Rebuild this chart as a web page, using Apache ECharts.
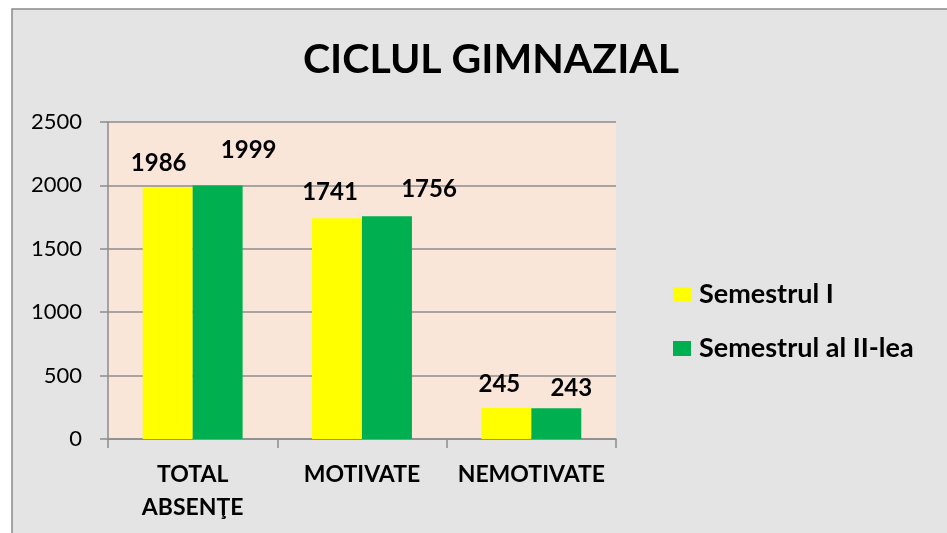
<!DOCTYPE html>
<html>
<head>
<meta charset="utf-8">
<script src="https://cdn.jsdelivr.net/npm/echarts@6/dist/echarts.min.js"></script>
<style>
  html, body { margin: 0; padding: 0; background: #fff; }
  #chart { width: 947px; height: 533px; }
</style>
</head>
<body>
<div id="chart"></div>
<script>
var myChart = echarts.init(document.getElementById('chart'));

// --- data ---
const categories = ['TOTAL\nABSENŢE', 'MOTIVATE', 'NEMOTIVATE'];
const seriesNames = ['Semestrul I', 'Semestrul al II-lea'];
const sem1 = [1986, 1741, 245];
const sem2 = [1999, 1756, 243];
const yTicks = { min: 0, max: 2500, interval: 500 };

// label nudges, as placed by hand in the original
const labelShift1 = [[-9, -12], [-7, -14], [-7, -12]];
const labelShift2 = [[31, -23], [42, -15], [15, -8]];

const fontFamily = 'Lato, "Open Sans", sans-serif';

function withLabels(values, shifts) {
    return values.map((v, i) => ({
        value: v,
        label: { offset: shifts[i] }
    }));
}

const option = {
    backgroundColor: '#ffffff',
    animation: false,
    textStyle: { fontFamily: fontFamily },
    graphic: [{
        type: 'rect',
        z: -10,
        silent: true,
        shape: { x: 12, y: 9, width: 960, height: 560 },
        style: { fill: '#e4e4e4', stroke: '#8a8a8a', lineWidth: 1.5 }
    }],
    title: {
        text: 'CICLUL GIMNAZIAL',
        left: 298,
        top: 34,
        textStyle: { fontSize: 41, fontWeight: 'bold', color: '#000', fontFamily: fontFamily }
    },
    legend: {
        orient: 'vertical',
        left: 668,
        top: 276,
        itemWidth: 18,
        itemHeight: 15,
        itemGap: 27,
        icon: 'rect',
        data: seriesNames,
        textStyle: { fontSize: 27, fontWeight: 'bold', color: '#000', padding: [0, 0, 0, 3] }
    },
    grid: {
        left: 108, right: 331, top: 122, bottom: 94,
        show: true, backgroundColor: '#fae5d9', borderWidth: 0
    },
    xAxis: {
        type: 'category',
        data: categories,
        axisLine: { lineStyle: { color: '#8c8c8c', width: 1.5 } },
        axisTick: { show: true, length: 9, lineStyle: { color: '#8c8c8c', width: 1.5 } },
        axisLabel: {
            margin: 19, fontSize: 23, fontWeight: 'bold', color: '#000',
            lineHeight: 33, interval: 0
        }
    },
    yAxis: {
        type: 'value',
        min: yTicks.min, max: yTicks.max, interval: yTicks.interval,
        axisLine: { show: true, lineStyle: { color: '#8c8c8c', width: 1.5 } },
        axisTick: { show: true, length: 8, lineStyle: { color: '#8c8c8c', width: 1.5 } },
        splitLine: { lineStyle: { color: '#8c8c8c', width: 1.5 } },
        axisLabel: { margin: 26, fontSize: 22, color: '#000', formatter: v => String(v) }
    },
    series: [
        {
            name: seriesNames[0], type: 'bar',
            data: withLabels(sem1, labelShift1),
            barGap: '0%', barCategoryGap: '41%',
            itemStyle: { color: '#ffff00' },
            label: { show: true, position: 'top', distance: 0, fontSize: 24, fontWeight: 'bold', color: '#000' }
        },
        {
            name: seriesNames[1], type: 'bar',
            data: withLabels(sem2, labelShift2),
            barGap: '0%', barCategoryGap: '41%',
            itemStyle: { color: '#00b050' },
            label: { show: true, position: 'top', distance: 0, fontSize: 24, fontWeight: 'bold', color: '#000' }
        }
    ]
};

myChart.setOption(option);

window.addEventListener('resize', function() {
    myChart.resize();
});
</script>
</body>
</html>
